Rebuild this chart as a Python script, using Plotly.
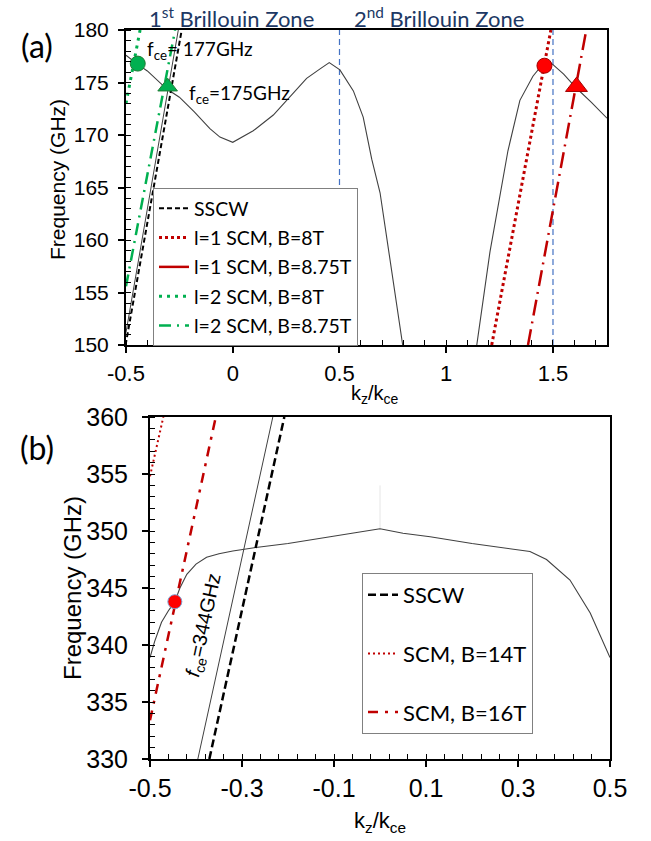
import plotly.graph_objects as go

W, H = 651, 841

# ---------------- Panel (a) data ----------------
a_disp1_k = [-0.5, -0.47, -0.45, -0.40, -0.35, -0.31, -0.25, -0.18, -0.107, -0.06, 0.0,
             0.096, 0.19, 0.268, 0.346, 0.409, 0.452, 0.502, 0.565, 0.611, 0.651, 0.69, 0.744, 0.796]
a_disp1_f = [177.6, 177.1, 176.8, 176.1, 175.2, 174.4, 173.6, 172.2, 170.6, 169.8, 169.3,
             170.4, 171.9, 173.6, 175.4, 176.3, 176.9, 176.2, 174.2, 171.7, 167.7, 164.5, 157.3, 150.0]
a_disp2_k = [1.143, 1.205, 1.289, 1.345, 1.406, 1.45, 1.48, 1.50, 1.55, 1.608, 1.68, 1.753]
a_disp2_f = [150.0, 158.9, 168.5, 173.3, 175.6, 176.7, 177.0, 176.7, 175.8, 174.5, 173.1, 171.6]

a_light_k = [-0.5, -0.255]
a_light_f = [151.2, 180.0]
a_sscw_k = [-0.502, -0.239]
a_sscw_f = [150.0, 180.0]
a_l1_8T_k = [1.213, 1.49]
a_l1_8T_f = [150.0, 180.0]
a_l1_875T_k = [1.383, 1.656]
a_l1_875T_f = [150.0, 180.0]
a_l2_8T_k = [-0.5, -0.434]
a_l2_8T_f = [173.0, 180.0]
a_l2_875T_k = [-0.5, -0.27]
a_l2_875T_f = [155.6, 180.0]

a_circ_green = (-0.445, 176.8)
a_tri_green = (-0.305, 174.6)
a_circ_red = (1.46, 176.6)
a_tri_red = (1.61, 174.6)
a_zone_k = [0.5, 1.5]

a_xticks = [-0.5, 0, 0.5, 1, 1.5]
a_xticklabels = ["-0.5", "0", "0.5", "1", "1.5"]
a_yticks = [150, 155, 160, 165, 170, 175, 180]

# ---------------- Panel (b) data ----------------
b_disp_k = [-0.5, -0.49, -0.475, -0.46, -0.446, -0.435, -0.42, -0.40, -0.377, -0.35, -0.32,
            -0.27, -0.2, -0.109, 0.0, 0.05, 0.109, 0.2, 0.3, 0.326, 0.362, 0.413, 0.457, 0.5]
b_disp_f = [338.9, 340.3, 342.0, 343.0, 343.8, 345.0, 346.2, 347.1, 347.7, 348.0, 348.25,
            348.55, 348.9, 349.5, 350.2, 349.8, 349.5, 348.9, 348.3, 348.2, 347.5, 345.7, 342.8, 338.9]
b_spike_k = [0.0, 0.0]
b_spike_f = [350.2, 354.0]
b_light_k = [-0.396, -0.233]
b_light_f = [330.0, 360.0]
b_sscw_k = [-0.371, -0.208]
b_sscw_f = [330.0, 360.0]
b_14T_k = [-0.5, -0.471]
b_14T_f = [354.8, 360.0]
b_16T_k = [-0.5, -0.357]
b_16T_f = [333.4, 360.0]
b_circ_red = (-0.446, 343.8)

b_xticks = [-0.5, -0.3, -0.1, 0.1, 0.3, 0.5]
b_xticklabels = ["-0.5", "-0.3", "-0.1", "0.1", "0.3", "0.5"]
b_yticks = [330, 335, 340, 345, 350, 355, 360]


def xp(px):
    return px / W


def yp(py):
    return 1 - py / H


GREEN = "#00B050"
RED = "#FF0000"
DRED = "#C00000"
BLUE = "#4472C4"
NAVY = "#203864"
ARIAL = "Liberation Sans, Arial, sans-serif"
CAL = "Lato, Carlito, Calibri, sans-serif"

fig = go.Figure()

# ---- panel (a) traces ----
for kk in a_zone_k:
    fig.add_trace(go.Scatter(x=[kk, kk], y=[150, 180], mode="lines",
                             line=dict(color=BLUE, width=1.2, dash="6px,4px"),
                             showlegend=False, hoverinfo="skip", xaxis="x", yaxis="y"))
fig.add_trace(go.Scatter(x=a_disp1_k, y=a_disp1_f, mode="lines",
                         line=dict(color="#404040", width=1.1), showlegend=False, xaxis="x", yaxis="y"))
fig.add_trace(go.Scatter(x=a_disp2_k, y=a_disp2_f, mode="lines",
                         line=dict(color="#404040", width=1.1), showlegend=False, xaxis="x", yaxis="y"))
fig.add_trace(go.Scatter(x=a_light_k, y=a_light_f, mode="lines",
                         line=dict(color="#404040", width=1), showlegend=False, xaxis="x", yaxis="y"))

fig.add_trace(go.Scatter(x=a_sscw_k, y=a_sscw_f, mode="lines", name="SSCW",
                         line=dict(color="black", width=2, dash="5px,3px"),
                         legend="legend", legendgroup="a1", xaxis="x", yaxis="y"))
fig.add_trace(go.Scatter(x=a_l1_8T_k, y=a_l1_8T_f, mode="lines", name="l=1 SCM, B=8T",
                         line=dict(color=DRED, width=3, dash="3px,3px"),
                         legend="legend", legendgroup="a2", xaxis="x", yaxis="y"))
fig.add_trace(go.Scatter(x=a_l1_875T_k, y=a_l1_875T_f, mode="lines", name="l=1 SCM, B=8.75T",
                         line=dict(color=DRED, width=2.5, dash="16px,6px,2px,6px"),
                         legend="legend", legendgroup="a3", showlegend=False, xaxis="x", yaxis="y"))
fig.add_trace(go.Scatter(x=[None], y=[None], mode="lines", name="l=1 SCM, B=8.75T",
                         line=dict(color=DRED, width=2.5),
                         legend="legend", legendgroup="a3", xaxis="x", yaxis="y"))
fig.add_trace(go.Scatter(x=a_l2_8T_k, y=a_l2_8T_f, mode="lines", name="l=2 SCM, B=8T",
                         line=dict(color=GREEN, width=3, dash="3px,5px"),
                         legend="legend", legendgroup="a4", xaxis="x", yaxis="y"))
fig.add_trace(go.Scatter(x=a_l2_875T_k, y=a_l2_875T_f, mode="lines", name="l=2 SCM, B=8.75T",
                         line=dict(color=GREEN, width=2.5, dash="12px,6px,2px,6px"),
                         legend="legend", legendgroup="a5", xaxis="x", yaxis="y"))

fig.add_trace(go.Scatter(x=[a_circ_green[0]], y=[a_circ_green[1]], mode="markers",
                         marker=dict(symbol="circle", size=15, color=GREEN, line=dict(color="#1E7B34", width=1)),
                         showlegend=False, xaxis="x", yaxis="y"))
fig.add_trace(go.Scatter(x=[a_tri_green[0]], y=[a_tri_green[1]], mode="markers",
                         marker=dict(symbol="triangle-up", size=17, color=GREEN, line=dict(color="#1E7B34", width=1)),
                         showlegend=False, xaxis="x", yaxis="y"))
fig.add_trace(go.Scatter(x=[a_circ_red[0]], y=[a_circ_red[1]], mode="markers",
                         marker=dict(symbol="circle", size=15, color=RED, line=dict(color="#A00000", width=1)),
                         showlegend=False, xaxis="x", yaxis="y"))
fig.add_trace(go.Scatter(x=[a_tri_red[0]], y=[a_tri_red[1]], mode="markers",
                         marker=dict(symbol="triangle-up", size=19, color=RED, line=dict(color="#A00000", width=1)),
                         showlegend=False, xaxis="x", yaxis="y"))

# ---- panel (b) traces ----
fig.add_trace(go.Scatter(x=b_spike_k, y=b_spike_f, mode="lines",
                         line=dict(color="#E6E6E6", width=1), showlegend=False, xaxis="x2", yaxis="y2"))
fig.add_trace(go.Scatter(x=b_disp_k, y=b_disp_f, mode="lines",
                         line=dict(color="#404040", width=1.1), showlegend=False, xaxis="x2", yaxis="y2"))
fig.add_trace(go.Scatter(x=b_light_k, y=b_light_f, mode="lines",
                         line=dict(color="#404040", width=1), showlegend=False, xaxis="x2", yaxis="y2"))
fig.add_trace(go.Scatter(x=b_sscw_k, y=b_sscw_f, mode="lines", name="SSCW",
                         line=dict(color="black", width=2.5, dash="8px,4px"),
                         legend="legend2", legendgroup="b1", xaxis="x2", yaxis="y2"))
fig.add_trace(go.Scatter(x=b_14T_k, y=b_14T_f, mode="lines", name="SCM, B=14T",
                         line=dict(color=DRED, width=2, dash="2px,3px"),
                         legend="legend2", legendgroup="b2", xaxis="x2", yaxis="y2"))
fig.add_trace(go.Scatter(x=b_16T_k, y=b_16T_f, mode="lines", name="SCM, B=16T",
                         line=dict(color=DRED, width=2.5, dash="10px,7px,3px,7px"),
                         legend="legend2", legendgroup="b3", xaxis="x2", yaxis="y2"))
fig.add_trace(go.Scatter(x=[b_circ_red[0]], y=[b_circ_red[1]], mode="markers",
                         marker=dict(symbol="circle", size=14, color=RED, line=dict(color="#7F9FD0", width=1)),
                         showlegend=False, xaxis="x2", yaxis="y2"))

axis_common = dict(showgrid=False, zeroline=False, showline=True, linecolor="black",
                   linewidth=2, mirror=True, ticks="outside", ticklen=6, tickwidth=1.5,
                   tickcolor="black", automargin=False)

fig.update_layout(
    template="none",
    width=W, height=H,
    margin=dict(l=0, r=0, t=0, b=0, autoexpand=False),
    paper_bgcolor="white", plot_bgcolor="white",
    xaxis=dict(domain=[xp(126), xp(607)], range=[-0.5, 1.753], anchor="y",
               tickvals=a_xticks, ticktext=a_xticklabels,
               tickfont=dict(family=ARIAL, size=22, color="black"), ticklabelstandoff=2,
               minor=dict(dtick=0.1, tick0=-0.5, ticks="inside", ticklen=5, tickcolor="black", tickwidth=1),
               **axis_common),
    yaxis=dict(domain=[yp(345), yp(30)], range=[150, 180], anchor="x",
               tickvals=a_yticks,
               tickfont=dict(family=ARIAL, size=21, color="black"), ticklabelstandoff=5,
               minor=dict(dtick=1, tick0=150, ticks="inside", ticklen=5, tickcolor="black", tickwidth=1),
               **axis_common),
    xaxis2=dict(domain=[xp(150), xp(610)], range=[-0.5, 0.5], anchor="y2",
                tickvals=b_xticks, ticktext=b_xticklabels,
                tickfont=dict(family=ARIAL, size=25, color="black"),
                minor=dict(dtick=0.04, tick0=-0.5, ticks="inside", ticklen=5, tickcolor="black", tickwidth=1),
                **axis_common),
    yaxis2=dict(domain=[yp(759), yp(417)], range=[330, 360], anchor="x2",
                tickvals=b_yticks,
                tickfont=dict(family=ARIAL, size=25, color="black"), ticklabelstandoff=9,
                minor=dict(dtick=1, tick0=330, ticks="inside", ticklen=5, tickcolor="black", tickwidth=1),
                **axis_common),
    legend=dict(x=xp(153), y=yp(188), xanchor="left", yanchor="top",
                bgcolor="white", bordercolor="#808080", borderwidth=1,
                font=dict(family=CAL, size=19.5, color="black"),
                traceorder="grouped", tracegroupgap=1, itemwidth=30),
    legend2=dict(x=xp(362), y=yp(573), xanchor="left", yanchor="top",
                 bgcolor="white", bordercolor="#808080", borderwidth=1,
                 font=dict(family=CAL, size=22, color="black"),
                 traceorder="grouped", tracegroupgap=27, itemwidth=30),
    showlegend=True,
)

annotations = [
    dict(text="(a)", x=xp(37), y=yp(45), font=dict(family=CAL, size=32, color="black")),
    dict(text="(b)", x=xp(37), y=yp(447), font=dict(family=CAL, size=32, color="black")),
    dict(text="1<sup>st</sup> Brillouin Zone", x=xp(231), y=yp(17), font=dict(family=CAL, size=22, color=NAVY)),
    dict(text="2<sup>nd</sup> Brillouin Zone", x=xp(439), y=yp(17), font=dict(family=CAL, size=22, color=NAVY)),
    dict(text="f<sub>ce</sub>= 177GHz", x=xp(145), y=yp(50), xanchor="left",
         font=dict(family=CAL, size=19, color="black")),
    dict(text="f<sub>ce</sub>=175GHz", x=xp(187), y=yp(94), xanchor="left",
         font=dict(family=CAL, size=19, color="black")),
    dict(text="<i>f</i><sub>ce</sub>=344GHz", x=xp(204), y=yp(625), textangle=-78,
         font=dict(family=ARIAL, size=20, color="black")),
    dict(text="Frequency (GHz)", x=xp(57), y=yp(180), textangle=-90,
         font=dict(family=ARIAL, size=21, color="black")),
    dict(text="Frequency (GHz)", x=xp(72), y=yp(588), textangle=-90,
         font=dict(family=ARIAL, size=24, color="black")),
    dict(text="k<sub>z</sub>/k<sub>ce</sub>", x=xp(375), y=yp(394),
         font=dict(family=ARIAL, size=20, color="black")),
    dict(text="k<sub>z</sub>/k<sub>ce</sub>", x=xp(380), y=yp(822),
         font=dict(family=ARIAL, size=22, color="black")),
]
for a in annotations:
    a.setdefault("xanchor", "center")
    a.setdefault("yanchor", "middle")
    a.update(xref="paper", yref="paper", showarrow=False)
fig.update_layout(annotations=annotations)

fig.write_html("out.html", config={"displayModeBar": False},
               post_script="document.body.style.margin='0px';document.body.style.padding='0px';")
